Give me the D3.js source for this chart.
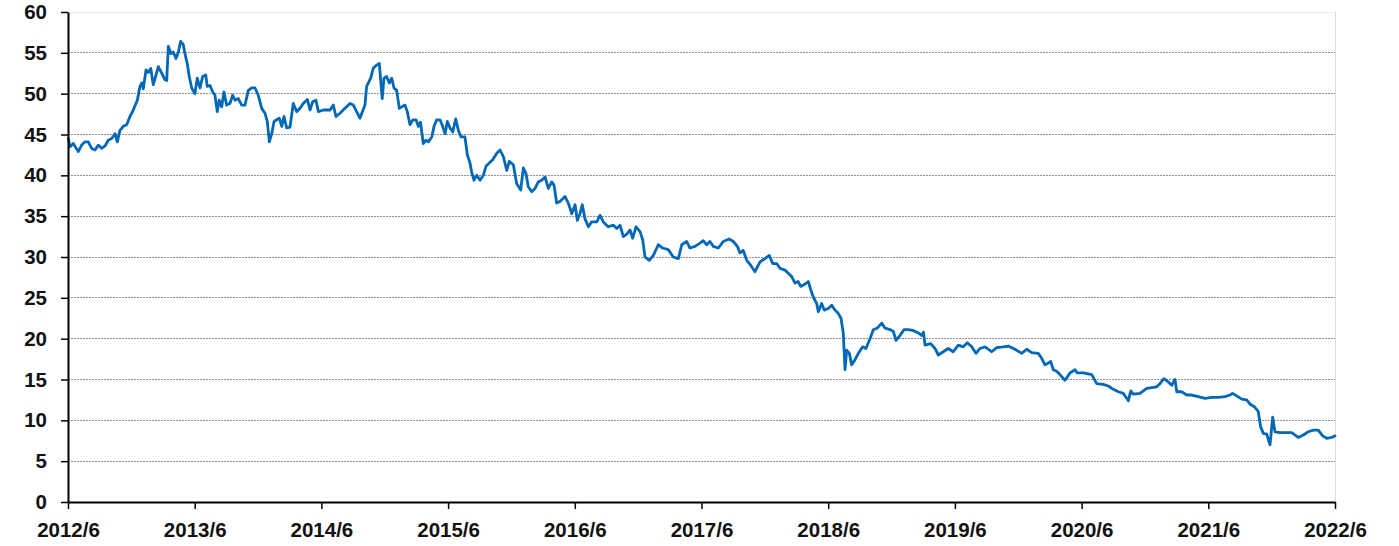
<!DOCTYPE html>
<html>
<head>
<meta charset="utf-8">
<script src="https://cdn.jsdelivr.net/npm/d3@7"></script>
<style>
  html, body { margin: 0; padding: 0; background: #fff; }
  svg { display: block; }
  .tick text { font-family: "Liberation Sans Narrow", "Liberation Sans", sans-serif; font-weight: 700; font-size: 20.5px; fill: #111; }
</style>
</head>
<body>
<svg id="chart" width="1399" height="546"></svg>
<script>
// time in decimal years (2012.417 = 2012/6)
const times = [
2012.419,2012.433,2012.459,2012.498,2012.525,2012.551,2012.577,2012.604,2012.630,2012.656,
2012.683,2012.709,2012.735,2012.762,2012.788,2012.806,2012.827,2012.853,2012.880,2012.906,
2012.932,2012.964,2012.985,2012.999,2013.011,2013.033,2013.051,2013.070,2013.090,2013.112,
2013.130,2013.157,2013.183,2013.196,2013.209,2013.230,2013.248,2013.269,2013.288,2013.306,
2013.327,2013.340,2013.358,2013.374,2013.393,2013.419,2013.437,2013.459,2013.480,2013.504,
2013.516,2013.538,2013.559,2013.577,2013.595,2013.611,2013.630,2013.648,2013.669,2013.695,
2013.717,2013.735,2013.761,2013.788,2013.814,2013.840,2013.867,2013.893,2013.919,2013.946,
2013.972,2013.990,2014.006,2014.025,2014.043,2014.064,2014.085,2014.104,2014.122,2014.143,
2014.169,2014.195,2014.222,2014.248,2014.274,2014.306,2014.327,2014.348,2014.374,2014.393,
2014.432,2014.485,2014.511,2014.532,2014.564,2014.603,2014.643,2014.669,2014.695,2014.721,
2014.761,2014.774,2014.806,2014.826,2014.853,2014.874,2014.897,2014.911,2014.932,2014.953,
2014.972,2014.990,2015.011,2015.032,2015.053,2015.077,2015.095,2015.116,2015.140,2015.164,
2015.182,2015.199,2015.221,2015.243,2015.261,2015.288,2015.306,2015.327,2015.353,2015.374,
2015.393,2015.411,2015.432,2015.453,2015.477,2015.498,2015.519,2015.550,2015.569,2015.590,
2015.603,2015.621,2015.643,2015.669,2015.695,2015.716,2015.742,2015.769,2015.801,2015.827,
2015.853,2015.880,2015.900,2015.932,2015.958,2015.990,2016.011,2016.032,2016.050,2016.077,
2016.103,2016.129,2016.156,2016.182,2016.208,2016.235,2016.253,2016.274,2016.300,2016.340,
2016.366,2016.393,2016.419,2016.437,2016.458,2016.476,2016.497,2016.524,2016.550,2016.590,
2016.616,2016.642,2016.681,2016.721,2016.748,2016.774,2016.800,2016.827,2016.853,2016.874,
2016.900,2016.932,2016.953,2016.971,2017.005,2017.037,2017.076,2017.111,2017.155,2017.194,
2017.234,2017.261,2017.300,2017.326,2017.366,2017.405,2017.431,2017.458,2017.484,2017.510,
2017.550,2017.589,2017.636,2017.668,2017.700,2017.721,2017.747,2017.774,2017.805,2017.839,
2017.879,2017.918,2017.952,2017.979,2018.011,2018.037,2018.076,2018.102,2018.129,2018.155,
2018.179,2018.200,2018.226,2018.260,2018.279,2018.299,2018.326,2018.339,2018.365,2018.386,
2018.418,2018.445,2018.470,2018.496,2018.518,2018.536,2018.550,2018.563,2018.584,2018.602,
2018.628,2018.655,2018.689,2018.715,2018.747,2018.773,2018.805,2018.839,2018.865,2018.905,
2018.931,2018.952,2018.984,2019.015,2019.049,2019.089,2019.128,2019.155,2019.169,2019.181,
2019.226,2019.260,2019.286,2019.325,2019.365,2019.404,2019.444,2019.483,2019.515,2019.550,
2019.583,2019.615,2019.655,2019.707,2019.747,2019.799,2019.839,2019.891,2019.944,2019.984,
2020.023,2020.075,2020.102,2020.128,2020.152,2020.173,2020.194,2020.220,2020.246,2020.286,
2020.325,2020.365,2020.383,2020.430,2020.497,2020.536,2020.588,2020.628,2020.667,2020.707,
2020.746,2020.786,2020.805,2020.825,2020.878,2020.931,2020.970,2021.010,2021.036,2021.067,
2021.101,2021.128,2021.154,2021.168,2021.207,2021.247,2021.286,2021.338,2021.391,2021.444,
2021.496,2021.549,2021.588,2021.609,2021.641,2021.681,2021.720,2021.746,2021.785,2021.811,
2021.830,2021.851,2021.878,2021.904,2021.925,2021.943,2021.983,2022.036,2022.075,2022.127,
2022.167,2022.206,2022.246,2022.285,2022.320,2022.352,2022.391,2022.417
];
const values = [
44.5,43.5,43.9,42.9,43.7,44.1,44.1,43.3,43.1,43.7,
43.3,43.6,44.3,44.5,45.1,44.1,45.5,46.0,46.2,47.2,
48.0,49.2,50.9,51.3,50.6,52.9,52.6,53.1,51.1,52.3,
53.3,52.5,51.7,51.6,55.8,54.9,55.1,54.3,55.1,56.4,
56.0,54.9,53.7,52.1,50.7,50.0,51.9,50.7,52.1,52.3,
50.9,51.0,50.2,49.8,47.8,49.2,48.4,50.2,48.6,48.8,
49.8,49.2,49.4,48.6,48.6,50.4,50.7,50.7,49.8,48.2,
47.6,46.6,44.1,45.1,46.6,46.8,47.0,46.0,47.2,45.8,
45.9,48.8,47.8,48.2,48.8,49.3,48.0,49.0,49.2,47.8,
48.0,48.0,48.6,47.2,47.6,48.2,48.8,48.6,47.8,47.0,
48.6,50.9,51.9,53.1,53.5,53.7,49.4,51.9,52.1,51.3,
51.9,50.7,50.4,48.2,48.4,48.6,47.8,46.2,46.8,46.8,
46.0,46.5,43.9,44.3,44.1,44.7,46.0,46.8,46.8,46.0,
45.1,46.6,45.8,45.3,46.9,45.5,44.7,44.7,42.5,41.5,
40.4,39.4,40.0,39.4,40.0,41.1,41.5,41.9,42.7,43.1,
42.3,40.6,41.7,41.3,39.0,38.2,40.9,40.2,38.6,38.0,
38.4,39.2,39.4,39.8,38.4,39.2,38.8,36.6,36.8,37.4,
36.6,35.3,36.4,34.5,35.3,36.4,34.7,33.7,34.3,34.3,
35.1,34.3,33.7,33.9,33.5,33.9,32.5,32.8,33.3,32.3,
33.7,33.1,32.1,30.0,29.6,30.2,31.5,31.1,30.9,30.0,
29.8,31.5,31.9,31.1,31.3,31.7,32.0,31.5,31.9,31.3,
31.1,31.9,32.2,31.9,31.3,30.5,30.8,29.6,29.0,28.2,
29.4,29.8,30.2,29.2,29.2,28.6,28.4,28.0,27.6,26.8,
27.0,26.4,26.6,27.0,26.0,25.1,24.3,23.3,24.3,23.5,
23.7,24.1,23.5,23.1,22.5,20.7,16.2,18.6,18.2,16.8,
17.4,18.2,19.0,18.8,20.0,21.1,21.3,21.9,21.3,21.1,
20.9,19.8,20.4,21.1,21.1,21.0,20.7,20.4,20.8,19.2,
19.4,18.8,18.0,18.4,18.8,18.4,19.2,19.0,19.5,19.0,
18.2,18.8,19.0,18.4,18.9,19.0,19.1,18.7,18.2,18.7,
18.3,18.2,17.6,16.8,17.0,17.2,16.2,16.0,15.6,14.9,
15.8,16.2,15.8,15.8,15.6,14.5,14.4,14.2,13.8,13.5,
13.3,12.4,13.6,13.2,13.3,13.9,14.0,14.1,14.5,15.1,
14.7,14.3,15.0,13.5,13.5,13.1,13.1,12.9,12.7,12.8,
12.8,12.9,13.1,13.3,13.0,12.6,12.5,12.0,11.6,11.1,
9.2,8.4,8.3,7.0,10.4,8.6,8.5,8.5,8.5,7.9,
8.2,8.6,8.8,8.8,8.1,7.8,7.9,8.1
];
const xTickValues = [2012.417,2013.417,2014.417,2015.417,2016.417,2017.417,2018.417,2019.417,2020.417,2021.417,2022.417];
const xTickLabels = ["2012/6","2013/6","2014/6","2015/6","2016/6","2017/6","2018/6","2019/6","2020/6","2021/6","2022/6"];
const yTickValues = [0,5,10,15,20,25,30,35,40,45,50,55,60];

const margin = {top: 12, right: 64, bottom: 44, left: 68};
const W = 1399, H = 546;
const iw = W - margin.left - margin.right, ih = H - margin.top - margin.bottom;

const svg = d3.select("#chart");
const g = svg.append("g").attr("transform", `translate(${margin.left},${margin.top})`);

const x = d3.scaleLinear().domain([xTickValues[0], xTickValues[xTickValues.length-1]]).range([0, iw]);
const y = d3.scaleLinear().domain([0, 60]).range([ih, 0]);

// gridlines
g.append("g").selectAll("line").data(yTickValues.filter(v => v > 0 && v < 60)).join("line")
  .attr("x1", 0).attr("x2", iw).attr("y1", d => y(d)).attr("y2", d => y(d))
  .attr("stroke", "#8f8f8f").attr("stroke-width", 1).attr("stroke-dasharray", "2,1")
  .attr("shape-rendering", "crispEdges");
// top and right light frame
g.append("line").attr("x1", 0).attr("x2", iw).attr("y1", y(60)).attr("y2", y(60))
  .attr("stroke", "#ececec").attr("stroke-width", 1).attr("shape-rendering", "crispEdges");
g.append("line").attr("x1", iw).attr("x2", iw).attr("y1", 0).attr("y2", ih)
  .attr("stroke", "#d6dde8").attr("stroke-width", 1).attr("shape-rendering", "crispEdges");

// line
const data = times.map((t, i) => ({t, v: values[i]}));
g.append("path").datum(data)
  .attr("fill", "none").attr("stroke", "#0068b6").attr("stroke-width", 2.8)
  .attr("stroke-linejoin", "round").attr("stroke-linecap", "round")
  .attr("d", d3.line().x(d => x(d.t)).y(d => y(d.v)));

// axes
const yAxis = g.append("g")
  .call(d3.axisLeft(y).tickValues(yTickValues).tickSize(7).tickSizeOuter(0).tickPadding(14));
yAxis.select(".domain").attr("stroke", "#000").attr("stroke-width", 2);
yAxis.selectAll(".tick line").attr("stroke", "#000").attr("stroke-width", 1.5);

const xAxis = g.append("g").attr("transform", `translate(0,${ih})`)
  .call(d3.axisBottom(x).tickValues(xTickValues).tickFormat((d, i) => xTickLabels[i])
    .tickSize(7).tickSizeOuter(0).tickPadding(13));
xAxis.select(".domain").attr("stroke", "#000").attr("stroke-width", 2);
xAxis.selectAll(".tick line").attr("stroke", "#000").attr("stroke-width", 1.5);
svg.selectAll(".tick text").attr("font-family", null).attr("font-size", null);
</script>
</body>
</html>
